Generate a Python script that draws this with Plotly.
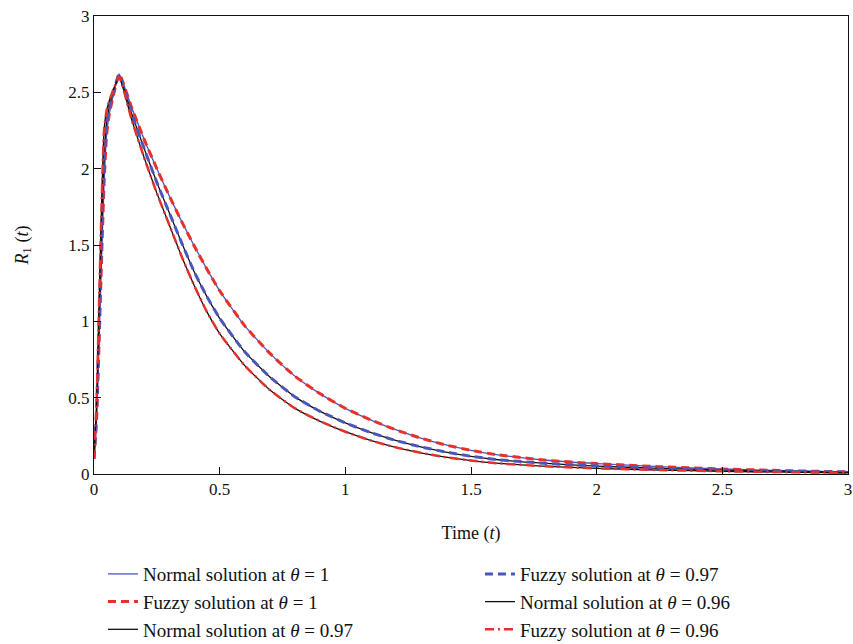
import plotly.graph_objects as go

t = [0, 0.01, 0.02, 0.03, 0.04, 0.05, 0.06, 0.08, 0.1, 0.15, 0.2, 0.25, 0.3, 0.35, 0.4, 0.45, 0.5,
     0.6, 0.7, 0.8, 0.9, 1.0, 1.1, 1.2, 1.3, 1.4, 1.5, 1.6, 1.8, 2.0, 2.25, 2.5, 2.75, 3.0]

r_theta_1 = [0.1, 0.35, 0.85, 1.4, 1.9, 2.22, 2.35, 2.5, 2.62, 2.40, 2.19, 2.00, 1.82, 1.65, 1.49,
             1.34, 1.20, 0.97, 0.79, 0.64, 0.525, 0.43, 0.355, 0.29, 0.235, 0.19, 0.155, 0.127,
             0.09, 0.068, 0.048, 0.033, 0.022, 0.014]
r_theta_097 = [0.1, 0.4, 0.95, 1.55, 2.05, 2.3, 2.4, 2.52, 2.61, 2.36, 2.13, 1.91, 1.71, 1.51, 1.32,
               1.16, 1.02, 0.80, 0.635, 0.505, 0.41, 0.335, 0.272, 0.22, 0.178, 0.144, 0.116,
               0.095, 0.069, 0.052, 0.037, 0.026, 0.018, 0.012]
r_theta_096 = [0.1, 0.45, 1.1, 1.75, 2.25, 2.38, 2.44, 2.53, 2.6, 2.32, 2.07, 1.84, 1.63, 1.42, 1.23,
               1.06, 0.92, 0.71, 0.55, 0.43, 0.345, 0.277, 0.22, 0.175, 0.139, 0.11, 0.088,
               0.071, 0.05, 0.037, 0.026, 0.018, 0.012, 0.008]

x_ticks = [0, 0.5, 1, 1.5, 2, 2.5, 3]
y_ticks = [0, 0.5, 1, 1.5, 2, 2.5, 3]

BLUE = "#4a55c0"
RED = "#e8302a"
BLACK = "#111111"
FONT = "Liberation Serif"

fig = go.Figure()
traces = [
    ("Normal solution at <i>θ</i> = 1", r_theta_1, BLUE, "solid", 1.3, "legend"),
    ("Fuzzy solution at <i>θ</i> = 1", r_theta_1, RED, "8px,5px", 3, "legend"),
    ("Normal solution at <i>θ</i> = 0.97", r_theta_097, BLACK, "solid", 1.3, "legend"),
    ("Fuzzy solution at <i>θ</i> = 0.97", r_theta_097, BLUE, "8px,5px", 3, "legend2"),
    ("Normal solution at <i>θ</i> = 0.96", r_theta_096, BLACK, "solid", 1.3, "legend2"),
    ("Fuzzy solution at <i>θ</i> = 0.96", r_theta_096, RED, "9px,4px,2px,4px", 2.5, "legend2"),
]
for name, y, color, dash, width, leg in traces:
    fig.add_trace(go.Scatter(x=t, y=y, mode="lines", name=name, legend=leg,
                             line=dict(color=color, dash=dash, width=width,
                                       shape="spline", smoothing=0.5)))

legend_style = dict(orientation="v", yanchor="top", xanchor="left", bgcolor="rgba(0,0,0,0)",
                    font=dict(family=FONT, size=19, color="#111"), tracegroupgap=0,
                    itemwidth=30)

fig.update_layout(
    width=853, height=644,
    margin=dict(l=94, r=5, t=16, b=170, autoexpand=False),
    plot_bgcolor="white", paper_bgcolor="white",
    font=dict(family=FONT, size=17, color="#111"),
    xaxis=dict(range=[0, 3], tickvals=x_ticks, ticktext=[str(v) for v in x_ticks],
               ticks="inside", ticklen=7, tickcolor="#111", showline=True, linecolor="#111",
               mirror=True, showgrid=False, zeroline=False, automargin=False,
               ticklabeloverflow="allow",
               title=dict(text="Time (<i>t</i>)", font=dict(size=18), standoff=27)),
    yaxis=dict(range=[0, 3], tickvals=y_ticks, ticktext=[str(v) for v in y_ticks],
               ticks="inside", ticklen=7, tickcolor="#111", showline=True, linecolor="#111",
               mirror=True, showgrid=False, zeroline=False, automargin=False,
               ticklabeloverflow="allow",
               title=dict(text="<i>R</i><sub>1</sub> (<i>t</i>)", font=dict(size=18), standoff=35)),
    legend=dict(x=0.0119, y=-0.177, **legend_style),
    legend2=dict(x=0.5119, y=-0.177, **legend_style),
)

# remove the browser's default 8px page margin so the figure fills the window exactly
fig.write_html("out.html", config={"displayModeBar": False},
               post_script="document.body.style.margin='0';")
